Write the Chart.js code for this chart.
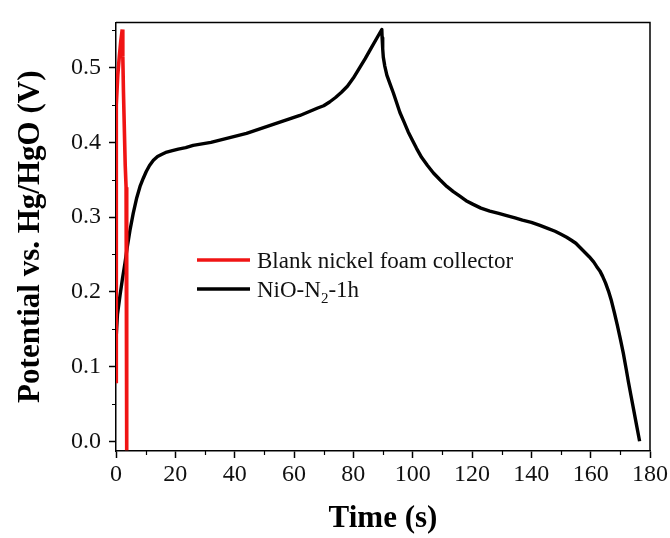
<!DOCTYPE html>
<html><head><meta charset="utf-8">
<script src="https://cdn.jsdelivr.net/npm/chart.js@4/dist/chart.umd.min.js"></script>
<style>html,body{margin:0;padding:0;background:#fff;}#wrap{width:670px;height:538px;}</style>
</head><body><div id="wrap"><canvas id="c" width="670" height="538"></canvas></div>
<script>
const seriesLabels = ['Blank nickel foam collector', 'NiO-N\u2082-1h'];
const seriesColors = ['#f01414', '#000000'];

const redTime = [0, 0.03, 0.08, 0.2, 0.6, 1.1, 1.6, 2.1, 2.3, 2.5, 2.8, 3.1, 3.4, 3.5, 3.6, 3.65, 3.7];
const redPotential = [0.08, 0.2, 0.32, 0.45, 0.49, 0.514, 0.535, 0.551, 0.515, 0.47, 0.42, 0.37, 0.34, 0.28, 0.18, 0.08, -0.012];

const blackTime = [0, 0.5, 1.35, 2.2, 3.0, 3.8, 4.7, 5.8, 7.0, 8.1, 9.2, 10.2, 11.3, 12.6, 14, 15.5, 17.1, 19, 21, 23.5, 26, 29, 32, 35, 38, 41, 44, 47, 50, 53, 56, 59, 62, 65, 68, 70, 72, 74, 76, 78, 80, 82, 84, 86, 88, 89.6,
  89.7, 89.9, 90.1, 90.6, 91.3, 92.3, 93.5, 94.6, 95.7, 97, 98.5, 100, 101.3, 103, 105, 107, 109.2, 111.5, 113.7, 115.9, 118, 120.4, 123, 126, 129, 131.7, 134.5, 137, 140, 142.9, 145.5, 148, 150, 151.9, 153.5, 155, 156.5, 158, 159.5, 161, 162, 163.1, 164, 165, 166, 167, 168, 169, 170, 171, 172, 172.7, 173.6, 174.5, 175.5, 176.5];
const blackPotential = [0.135, 0.17, 0.195, 0.218, 0.238, 0.26, 0.282, 0.305, 0.326, 0.341, 0.352, 0.361, 0.369, 0.376, 0.381, 0.384, 0.387, 0.389, 0.391, 0.393, 0.396, 0.398, 0.400, 0.403, 0.406, 0.409, 0.412, 0.416, 0.420, 0.424, 0.428, 0.432, 0.436, 0.441, 0.446, 0.449, 0.454, 0.460, 0.467, 0.475, 0.486, 0.499, 0.512, 0.526, 0.540, 0.551,
  0.540, 0.525, 0.514, 0.502, 0.490, 0.479, 0.466, 0.453, 0.440, 0.428, 0.414, 0.402, 0.392, 0.380, 0.369, 0.359, 0.350, 0.341, 0.334, 0.328, 0.322, 0.317, 0.312, 0.308, 0.305, 0.302, 0.299, 0.296, 0.293, 0.289, 0.285, 0.281, 0.277, 0.273, 0.269, 0.265, 0.259, 0.253, 0.247, 0.240, 0.234, 0.228, 0.221, 0.212, 0.201, 0.188, 0.172, 0.155, 0.137, 0.118, 0.096, 0.080, 0.061, 0.042, 0.021, 0.0];

const xTicks = [0, 20, 40, 60, 80, 100, 120, 140, 160, 180];
const xMinorTicks = [10, 30, 50, 70, 90, 110, 130, 150, 170];
const yTicks = [0.0, 0.1, 0.2, 0.3, 0.4, 0.5];
const yMinorTicks = [0.05, 0.15, 0.25, 0.35, 0.45, 0.55];

const xTitle = 'Time (s)';
const yTitle = 'Potential vs. Hg/HgO (V)';
const FONT = '"Liberation Serif", "Times New Roman", serif';

function pts(xs, ys) { return xs.map((x, i) => ({ x: x, y: ys[i] })); }

const decorPlugin = {
  id: 'decor',
  afterDraw(chart) {
    const ctx = chart.ctx;
    const a = chart.chartArea;
    const xs = chart.scales.x, ys = chart.scales.y;
    ctx.save();
    ctx.strokeStyle = '#000';
    ctx.lineWidth = 1.5;
    ctx.beginPath();
    ctx.moveTo(a.left, a.top); ctx.lineTo(a.right, a.top); ctx.lineTo(a.right, a.bottom);
    ctx.stroke();
    ctx.lineWidth = 1.2;
    ctx.beginPath();
    xMinorTicks.forEach(v => { const p = Math.round(xs.getPixelForValue(v)) + 0.5; ctx.moveTo(p, a.bottom); ctx.lineTo(p, a.bottom + 4); });
    yMinorTicks.forEach(v => { const p = Math.round(ys.getPixelForValue(v)) + 0.5; ctx.moveTo(a.left, p); ctx.lineTo(a.left - 4, p); });
    ctx.stroke();
    const lx0 = 197, lx1 = 250, tx = 257;
    const rows = [260, 289];
    ctx.lineWidth = 3.5;
    rows.forEach((y, i) => {
      ctx.strokeStyle = chart.data.datasets[i].borderColor;
      ctx.beginPath(); ctx.moveTo(lx0, y); ctx.lineTo(lx1, y); ctx.stroke();
    });
    ctx.fillStyle = '#111';
    ctx.textBaseline = 'alphabetic';
    ctx.font = '23px ' + FONT;
    ctx.fillText(seriesLabels[0], tx, rows[0] + 8);
    let x = tx;
    const base = rows[1] + 8;
    const p1 = 'NiO-N', sub = '2', p2 = '-1h';
    ctx.fillText(p1, x, base); x += ctx.measureText(p1).width;
    ctx.font = '15px ' + FONT;
    ctx.fillText(sub, x, base + 6); x += ctx.measureText(sub).width;
    ctx.font = '23px ' + FONT;
    ctx.fillText(p2, x, base);
    ctx.restore();
  }
};

new Chart(document.getElementById('c'), {
  type: 'scatter',
  data: {
    datasets: [
      { label: seriesLabels[0], data: pts(redTime, redPotential), showLine: true, borderColor: seriesColors[0], borderWidth: 3.6, pointRadius: 0, tension: 0, fill: false },
      { label: seriesLabels[1], data: pts(blackTime, blackPotential), showLine: true, borderColor: seriesColors[1], borderWidth: 3.4, pointRadius: 0, tension: 0, fill: false, borderJoinStyle: 'round' }
    ]
  },
  options: {
    responsive: false,
    animation: false,
    devicePixelRatio: 1,
    layout: { padding: { top: 15, right: 20, left: 0, bottom: 0 } },
    plugins: { legend: { display: false }, tooltip: { enabled: false } },
    scales: {
      x: {
        type: 'linear', min: 0, max: 180,
        afterBuildTicks: s => { s.ticks = xTicks.map(v => ({ value: v })); },
        afterFit: s => { s.height = 87; },
        border: { display: true, color: '#000', width: 1.5 },
        grid: { drawOnChartArea: false, drawTicks: true, tickLength: 7, tickColor: '#000', tickWidth: 1.5 },
        ticks: { color: '#111', font: { family: FONT, size: 24 }, padding: 2, maxRotation: 0, callback: v => String(v) },
        title: { display: true, text: xTitle, color: '#000', font: { family: FONT, size: 31, weight: 'bold' }, padding: { top: 0, bottom: 0 } }
      },
      y: {
        type: 'linear', min: -0.013, max: 0.5605,
        afterBuildTicks: s => { s.ticks = yTicks.map(v => ({ value: v })); },
        afterFit: s => { s.width = 116; },
        border: { display: true, color: '#000', width: 1.5 },
        grid: { drawOnChartArea: false, drawTicks: true, tickLength: 7, tickColor: '#000', tickWidth: 1.5 },
        ticks: { color: '#111', font: { family: FONT, size: 24 }, padding: 8, callback: v => v.toFixed(1) },
        title: { display: true, text: yTitle, color: '#000', font: { family: FONT, size: 31, weight: 'bold' }, padding: { top: 12, bottom: 0 } }
      }
    }
  },
  plugins: [decorPlugin]
});
</script>
</body></html>
